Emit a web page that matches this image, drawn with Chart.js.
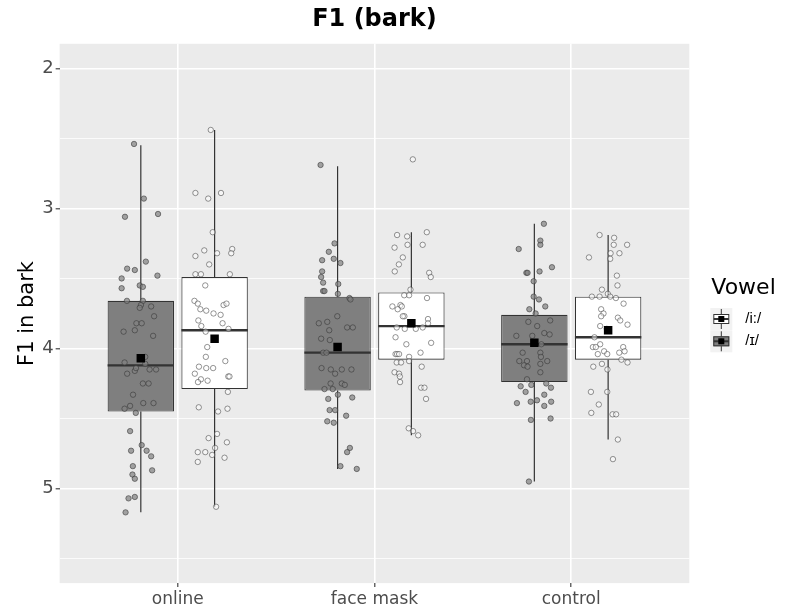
<!DOCTYPE html>
<html>
<head>
<meta charset="utf-8">
<script src="https://cdn.jsdelivr.net/npm/chart.js@4.4.1/dist/chart.umd.min.js"></script>
<style>
  html, body { margin: 0; padding: 0; background: #ffffff; }
  #wrap { width: 788px; height: 613px; }
</style>
</head>
<body>
<div id="wrap"><canvas id="f1Chart" width="788" height="613"></canvas></div>
<script>
'use strict';
// ===================== data =====================
const categories = ['online', 'face mask', 'control'];

// box statistics, F1 in bark (one value per category)
const ihWhiskerLo = [2.55, 2.70, 3.11];
const ihQ1        = [3.66, 3.63, 3.76];
const ihMedian    = [4.12, 4.03, 3.97];
const ihQ3        = [4.45, 4.30, 4.24];
const ihWhiskerHi = [5.17, 4.86, 4.95];
const ihMean      = [4.07, 3.99, 3.96];

const iiWhiskerLo = [2.44, 3.17, 3.19];
const iiQ1        = [3.49, 3.60, 3.63];
const iiMedian    = [3.87, 3.84, 3.92];
const iiQ3        = [4.29, 4.08, 4.08];
const iiWhiskerHi = [5.13, 4.62, 4.65];
const iiMean      = [3.93, 3.82, 3.87];

// individual observations (values) and their horizontal jitter (category units)
const ihOnline = [2.54, 2.93, 3.06, 3.04, 3.38, 3.43, 3.44, 3.50, 3.48, 3.57, 3.55, 3.56, 3.66, 3.66, 3.69, 3.71, 3.70, 3.77, 3.82, 3.82, 3.87, 3.88, 3.91, 4.10, 4.06, 4.18, 4.16, 4.14, 4.15, 4.15, 4.11, 4.25, 4.25, 4.33, 4.43, 4.41, 4.46, 4.39, 4.39, 4.59, 4.69, 4.73, 4.73, 4.77, 4.84, 4.90, 4.93, 4.87, 5.07, 5.06, 5.17];
const ihOnlineJit = [-0.222, -0.172, -0.268, -0.10, -0.162, -0.257, -0.218, -0.285, -0.103, -0.285, -0.193, -0.177, -0.258, -0.177, -0.187, -0.193, -0.135, -0.12, -0.21, -0.183, -0.218, -0.275, -0.125, -0.27, -0.165, -0.257, -0.218, -0.212, -0.143, -0.11, -0.165, -0.177, -0.148, -0.227, -0.27, -0.242, -0.213, -0.175, -0.123, -0.242, -0.183, -0.237, -0.158, -0.135, -0.228, -0.23, -0.218, -0.13, -0.25, -0.218, -0.265];
const ihFace = [2.69, 3.25, 3.31, 3.37, 3.36, 3.39, 3.45, 3.49, 3.53, 3.59, 3.59, 3.54, 3.61, 3.64, 3.65, 3.77, 3.82, 3.81, 3.87, 3.85, 3.85, 3.93, 3.94, 4.03, 4.03, 4.18, 4.14, 4.15, 4.15, 4.15, 4.25, 4.25, 4.26, 4.29, 4.29, 4.33, 4.36, 4.35, 4.44, 4.44, 4.48, 4.52, 4.53, 4.71, 4.74, 4.84, 4.86];
const ihFaceJit = [-0.274, -0.203, -0.232, -0.266, -0.207, -0.173, -0.266, -0.271, -0.261, -0.261, -0.254, -0.184, -0.186, -0.127, -0.122, -0.189, -0.283, -0.24, -0.23, -0.139, -0.11, -0.271, -0.227, -0.261, -0.244, -0.2, -0.269, -0.222, -0.166, -0.117, -0.223, -0.166, -0.151, -0.254, -0.212, -0.186, -0.235, -0.113, -0.228, -0.2, -0.144, -0.24, -0.207, -0.125, -0.139, -0.173, -0.09];
const ihControl = [3.11, 3.29, 3.23, 3.26, 3.46, 3.46, 3.42, 3.45, 3.52, 3.63, 3.65, 3.70, 3.72, 3.75, 3.81, 3.84, 3.80, 3.91, 3.91, 3.89, 3.90, 3.97, 4.03, 4.03, 4.09, 4.09, 4.12, 4.13, 4.06, 4.11, 4.09, 4.17, 4.22, 4.27, 4.26, 4.25, 4.28, 4.31, 4.33, 4.39, 4.38, 4.37, 4.38, 4.41, 4.51, 4.50, 4.95];
const ihControlJit = [-0.139, -0.267, -0.157, -0.157, -0.228, -0.222, -0.098, -0.161, -0.191, -0.191, -0.164, -0.132, -0.213, -0.181, -0.218, -0.173, -0.107, -0.279, -0.198, -0.137, -0.11, -0.152, -0.247, -0.157, -0.264, -0.225, -0.24, -0.222, -0.154, -0.157, -0.122, -0.157, -0.225, -0.257, -0.203, -0.127, -0.103, -0.232, -0.137, -0.276, -0.206, -0.174, -0.102, -0.137, -0.205, -0.105, -0.215];

const iiOnline = [2.44, 2.89, 2.93, 2.89, 3.17, 3.30, 3.34, 3.32, 3.29, 3.32, 3.40, 3.47, 3.47, 3.47, 3.55, 3.66, 3.68, 3.72, 3.73, 3.75, 3.76, 3.69, 3.68, 3.80, 3.84, 3.82, 3.86, 3.88, 3.99, 4.06, 4.13, 4.14, 4.14, 4.09, 4.18, 4.22, 4.24, 4.23, 4.20, 4.20, 4.31, 4.42, 4.45, 4.43, 4.64, 4.61, 4.67, 4.74, 4.74, 4.76, 4.71, 4.81, 4.78, 5.13];
const iiOnlineJit = [0.168, 0.09, 0.155, 0.22, 0.178, 0.135, 0.09, 0.20, 0.277, 0.272, 0.16, 0.09, 0.118, 0.265, 0.14, 0.085, 0.102, 0.115, 0.145, 0.182, 0.218, 0.233, 0.248, 0.105, 0.12, 0.228, 0.258, 0.142, 0.15, 0.143, 0.108, 0.145, 0.18, 0.242, 0.087, 0.118, 0.103, 0.152, 0.257, 0.263, 0.255, 0.107, 0.205, 0.253, 0.157, 0.20, 0.25, 0.102, 0.14, 0.175, 0.19, 0.102, 0.238, 0.195];
const iiFace = [2.65, 3.19, 3.20, 3.17, 3.28, 3.26, 3.26, 3.35, 3.40, 3.45, 3.46, 3.49, 3.58, 3.62, 3.62, 3.64, 3.70, 3.69, 3.70, 3.72, 3.77, 3.77, 3.85, 3.86, 3.86, 3.79, 3.82, 3.85, 3.92, 3.97, 3.96, 4.04, 4.04, 4.04, 4.06, 4.03, 4.10, 4.10, 4.09, 4.13, 4.17, 4.18, 4.20, 4.24, 4.28, 4.28, 4.36, 4.57, 4.59, 4.62];
const iiFaceJit = [0.195, 0.115, 0.166, 0.266, 0.102, 0.168, 0.245, 0.144, 0.124, 0.103, 0.278, 0.286, 0.183, 0.176, 0.151, 0.267, 0.091, 0.132, 0.139, 0.118, 0.152, 0.144, 0.113, 0.21, 0.154, 0.272, 0.272, 0.245, 0.107, 0.162, 0.288, 0.107, 0.115, 0.125, 0.176, 0.234, 0.113, 0.135, 0.176, 0.24, 0.102, 0.125, 0.129, 0.13, 0.237, 0.254, 0.262, 0.174, 0.196, 0.222];
const iiControl = [3.19, 3.21, 3.26, 3.26, 3.32, 3.32, 3.36, 3.35, 3.48, 3.55, 3.58, 3.63, 3.63, 3.61, 3.63, 3.64, 3.68, 3.72, 3.75, 3.77, 3.78, 3.80, 3.83, 3.84, 3.86, 3.97, 3.99, 3.99, 3.92, 4.04, 4.02, 4.04, 3.99, 4.02, 4.03, 4.08, 4.10, 4.13, 4.11, 4.15, 4.31, 4.31, 4.40, 4.46, 4.47, 4.47, 4.65, 4.79];
const iiControlJit = [0.144, 0.218, 0.216, 0.284, 0.2, 0.245, 0.198, 0.09, 0.232, 0.235, 0.156, 0.105, 0.144, 0.186, 0.198, 0.227, 0.266, 0.152, 0.164, 0.152, 0.237, 0.249, 0.286, 0.147, 0.181, 0.147, 0.11, 0.125, 0.118, 0.135, 0.167, 0.183, 0.264, 0.271, 0.244, 0.255, 0.286, 0.112, 0.156, 0.184, 0.1, 0.183, 0.14, 0.102, 0.21, 0.228, 0.237, 0.212];

const yTicks = [2, 3, 4, 5];

// ===================== series =====================
const series = [
    { label: '/i:/', side: 1, fill: '#FFFFFF', dotFill: 'rgba(255,255,255,0.5)', dotLine: 'rgba(60,60,60,0.6)',
      lo: iiWhiskerLo, q1: iiQ1, med: iiMedian, q3: iiQ3, hi: iiWhiskerHi, mean: iiMean,
      obs: [[iiOnline, iiOnlineJit], [iiFace, iiFaceJit], [iiControl, iiControlJit]] },
    { label: '/ɪ/', side: -1, fill: '#7F7F7F', dotFill: 'rgba(128,128,128,0.7)', dotLine: 'rgba(55,55,55,0.65)',
      lo: ihWhiskerLo, q1: ihQ1, med: ihMedian, q3: ihQ3, hi: ihWhiskerHi, mean: ihMean,
      obs: [[ihOnline, ihOnlineJit], [ihFace, ihFaceJit], [ihControl, ihControlJit]] }
];

const DODGE = 0.1875;      // half of the 0.75 dodge width
const HALF_BOX = 0.16875;  // half box width (0.75 / 2 * 0.9 / 2)
const INK = '#333333';

function xOf(i, s) { return i + 1 + s.side * DODGE; }

const datasets = [];
series.forEach(s => {
    // boxes (floating bars q1..q3)
    datasets.push({
        type: 'bar',
        label: s.label,
        data: categories.map((c, i) => ({ x: xOf(i, s), y: [s.q1[i], s.q3[i]] })),
        backgroundColor: s.fill,
        borderColor: INK,
        borderWidth: 1.1,
        borderSkipped: false,
        grouped: false,
        categoryPercentage: 1,
        barPercentage: 0.9,
        order: 4
    });

    // whiskers
    const whisk = [];
    categories.forEach((c, i) => {
        const x = xOf(i, s);
        whisk.push({ x, y: s.lo[i] }, { x, y: s.q1[i] }, { x, y: null },
                   { x, y: s.q3[i] }, { x, y: s.hi[i] }, { x, y: null });
    });
    datasets.push({
        type: 'scatter', showLine: true, data: whisk,
        borderColor: INK, borderWidth: 1.2, pointRadius: 0, order: 5
    });

    // medians
    const meds = [];
    categories.forEach((c, i) => {
        const x = xOf(i, s);
        meds.push({ x: x - HALF_BOX, y: s.med[i] }, { x: x + HALF_BOX, y: s.med[i] }, { x, y: null });
    });
    datasets.push({
        type: 'scatter', showLine: true, data: meds,
        borderColor: INK, borderWidth: 2.3, pointRadius: 0, order: 3
    });

    // jittered observations
    const pts = [];
    s.obs.forEach(([vals, jit], i) => {
        vals.forEach((v, k) => pts.push({ x: i + 1 + jit[k], y: v }));
    });
    datasets.push({
        type: 'scatter', data: pts,
        pointRadius: 2.7, pointBorderWidth: 0.9,
        pointBackgroundColor: s.dotFill, pointBorderColor: s.dotLine,
        order: 2
    });

    // means
    datasets.push({
        type: 'scatter',
        data: categories.map((c, i) => ({ x: xOf(i, s), y: s.mean[i] })),
        pointStyle: 'rect', pointRadius: 6, pointBorderWidth: 0,
        pointBackgroundColor: '#000000', pointBorderColor: '#000000',
        order: 1
    });
});

// ===================== plugins =====================
const panelBg = {
    id: 'panelBg',
    beforeDraw(chart) {
        const { ctx, chartArea: a } = chart;
        ctx.save();
        ctx.fillStyle = '#EBEBEB';
        ctx.fillRect(a.left, a.top, a.right - a.left, a.bottom - a.top);
        ctx.restore();
    }
};

function drawKey(ctx, x, y, s) {
    const cx = x + 11, cy = y + 11;
    ctx.fillStyle = '#F2F2F2';
    ctx.fillRect(x, y, 22, 22);
    ctx.strokeStyle = INK;
    ctx.lineWidth = 1;
    ctx.beginPath();
    ctx.moveTo(cx, y + 1); ctx.lineTo(cx, y + 21);
    ctx.stroke();
    ctx.fillStyle = s.fill;
    ctx.fillRect(x + 3, cy - 5, 16, 10);
    ctx.strokeRect(x + 3.5, cy - 4.5, 15, 9);
    ctx.lineWidth = 2;
    ctx.beginPath();
    ctx.moveTo(x + 3.5, cy); ctx.lineTo(x + 18.5, cy);
    ctx.stroke();
    ctx.fillStyle = s.dotFill;
    ctx.strokeStyle = s.dotLine;
    ctx.lineWidth = 0.8;
    ctx.beginPath();
    ctx.arc(cx, cy, 2.5, 0, Math.PI * 2);
    ctx.fill(); ctx.stroke();
    ctx.fillStyle = '#000';
    ctx.fillRect(cx - 3, cy - 3, 6, 6);
}

const vowelLegend = {
    id: 'vowelLegend',
    afterDraw(chart) {
        const ctx = chart.ctx;
        const left = chart.chartArea.right + 21;
        ctx.save();
        ctx.fillStyle = '#000';
        ctx.font = '22px "DejaVu Sans"';
        ctx.textAlign = 'left';
        ctx.textBaseline = 'alphabetic';
        ctx.fillText('Vowel', left + 1, 294);
        series.forEach((s, i) => {
            const y = 308 + i * 22.3;
            drawKey(ctx, left, y, s);
            ctx.fillStyle = '#000';
            ctx.font = '15px "Liberation Sans", "DejaVu Sans"';
            ctx.textBaseline = 'middle';
            ctx.fillText(s.label, left + 35, y + 11);
        });
        ctx.restore();
    }
};

// ===================== chart =====================
Chart.defaults.font.family = '"DejaVu Sans", "Liberation Sans", sans-serif';

new Chart(document.getElementById('f1Chart'), {
    type: 'bar',
    data: { datasets },
    options: {
        responsive: false,
        animation: false,
        layout: { padding: { left: 0, right: 98.7, top: 0, bottom: 1.5 } },
        plugins: {
            legend: { display: false },
            tooltip: { enabled: false },
            title: {
                display: true,
                text: 'F1 (bark)',
                color: '#000',
                fullSize: false,
                font: { size: 24, weight: 'bold' },
                padding: { top: 5, bottom: 10 }
            }
        },
        scales: {
            x: {
                type: 'linear',
                min: 0.4,
                max: 3.6,
                offset: false,
                border: { display: false },
                grid: {
                    offset: false,
                    color: '#FFFFFF',
                    lineWidth: 1.6,
                    drawTicks: true,
                    tickLength: 4,
                    tickColor: INK,
                    tickWidth: 1.1
                },
                ticks: {
                    stepSize: 1,
                    includeBounds: false,
                    autoSkip: false,
                    maxRotation: 0,
                    padding: 2,
                    color: '#4D4D4D',
                    font: { size: 17 },
                    callback: v => categories[v - 1] || ''
                }
            },
            y: {
                type: 'linear',
                reverse: true,
                min: 1.825,
                max: 5.675,
                border: { display: false },
                grid: {
                    color: '#FFFFFF',
                    lineWidth: ctx => (yTicks.includes(ctx.tick.value) ? 1.6 : 0.8),
                    drawTicks: true,
                    tickLength: 4,
                    tickColor: ctx => (yTicks.includes(ctx.tick.value) ? INK : 'rgba(0,0,0,0)'),
                    tickWidth: 1.1
                },
                ticks: {
                    stepSize: 0.5,
                    includeBounds: false,
                    autoSkip: false,
                    padding: 2,
                    color: '#4D4D4D',
                    font: { size: 18 },
                    callback: v => (yTicks.includes(v) ? String(v) : '')
                },
                title: {
                    display: true,
                    text: 'F1 in bark',
                    color: '#000',
                    font: { size: 21 },
                    padding: { top: 15, bottom: 0 }
                }
            }
        }
    },
    plugins: [panelBg, vowelLegend]
});
</script>
</body>
</html>
